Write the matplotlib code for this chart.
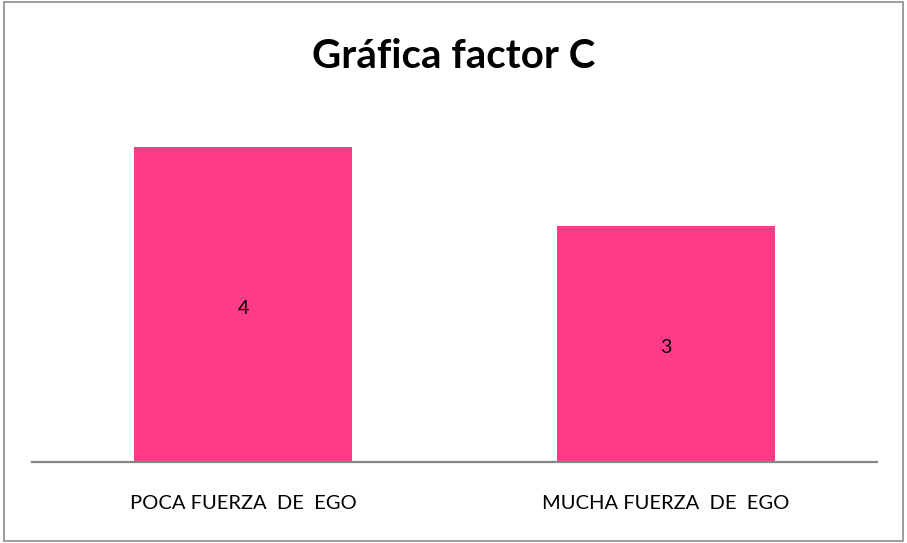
import matplotlib
matplotlib.use("Agg")
import matplotlib.pyplot as plt
from matplotlib.patches import Rectangle

categories = ["POCA FUERZA  DE  EGO", "MUCHA FUERZA  DE  EGO"]
values = [4, 3]
title = "Gráfica factor C"

bar_color = "#FF3A88"
plt.rcParams["font.family"] = ["Lato", "DejaVu Sans"]

fig = plt.figure(figsize=(9.07, 5.43), dpi=100)
ax = fig.add_axes([0.0353, 0.1492, 0.9316, 0.7256])

x = range(len(categories))
bars = ax.bar(x, values, width=0.515, color=bar_color)
for b, v in zip(bars, values):
    ax.annotate(str(v), (b.get_x() + b.get_width() / 2, v / 2), xytext=(0, -3),
                textcoords="offset points", ha="center", va="center",
                fontsize=14, color="black")

ax.set_xlim(-0.5, 1.5)
ax.set_ylim(0, 5)
ax.set_xticks(list(x))
ax.set_xticklabels(categories, fontsize=14.5)
ax.tick_params(axis="x", length=0, pad=24)
ax.set_yticks([])
for s in ["top", "right", "left"]:
    ax.spines[s].set_visible(False)
ax.spines["bottom"].set_color("#868686")
ax.spines["bottom"].set_linewidth(1.6)

fig.text(0.5, 1 - 56 / 543, title, ha="center", va="center", fontsize=29, fontweight="bold")

fig.patches.append(Rectangle((0.004, 0.004), 0.992, 0.992, transform=fig.transFigure,
                             fill=False, edgecolor="#8C8C8C", linewidth=1.2))

fig.savefig("out.png", dpi=100)
